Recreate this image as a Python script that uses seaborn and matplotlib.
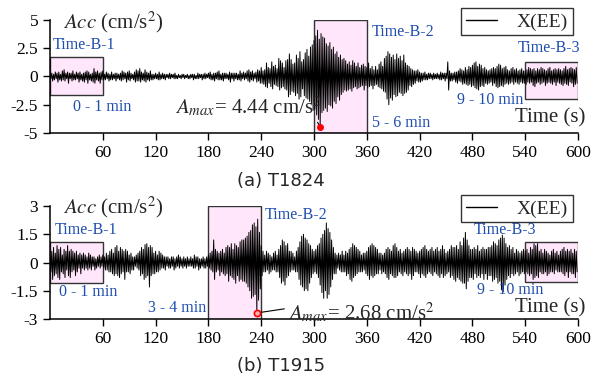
import numpy as np
import pandas as pd
import matplotlib.pyplot as plt
import seaborn as sns
from matplotlib.patches import Rectangle

# peaks, one value per second (0 ... 599 s)
time_s = list(range(0, 600))

acc_t1824 = [
    0.1, -0.2, 0.3, -0.4, 0.2, -0.3, 0.4, -0.2, 0.3, -0.5, 0.4, -0.3, 0.2, -0.4, 0.5, -0.3, 0.6, -0.4, 0.3, -0.2,
    0.4, -0.6, 0.3, -0.2, 0.3, -0.4, 0.5, -0.3, 0.2, -0.3, 0.4, -0.2, 0.3, -0.5, 0.4, -0.3, 0.2, -0.4, 0.3, -0.5,
    0.4, -0.3, 0.5, -0.6, 0.4, -0.3, 0.2, -0.4, 0.3, -0.5, 0.7, -0.6, 0.4, -0.3, 0.5, -0.4, 0.3, -0.6, 0.4, -0.3,
    0.5, -0.3, 0.2, -0.3, 0.4, -0.2, 0.3, -0.4, 0.2, -0.3, 0.4, -0.3, 0.2, -0.2, 0.3, -0.4, 0.3, -0.2, 0.2, -0.3,
    0.3, -0.4, 0.5, -0.3, 0.4, -0.2, 0.3, -0.5, 0.4, -0.3, 0.5, -0.4, 0.3, -0.2, 0.2, -0.3, 0.4, -0.5, 0.6, -0.4,
    0.5, -0.4, 0.7, -0.5, 0.4, -0.3, 0.3, -0.4, 0.6, -0.5, 0.4, -0.3, 0.3, -0.4, 0.5, -0.3, 0.2, -0.3, 0.2, -0.2,
    0.3, -0.2, 0.2, -0.3, 0.4, -0.3, 0.2, -0.2, 0.3, -0.2, 0.2, -0.3, 0.2, -0.1, 0.2, -0.2, 0.3, -0.2, 0.2, -0.1,
    0.2, -0.2, 0.3, -0.2, 0.1, -0.2, 0.2, -0.1, 0.1, -0.2, 0.2, -0.1, 0.2, -0.2, 0.1, -0.1, 0.2, -0.2, 0.1, -0.2,
    0.2, -0.1, 0.2, -0.3, 0.2, -0.2, 0.1, -0.2, 0.3, -0.2, 0.2, -0.1, 0.2, -0.3, 0.2, -0.2, 0.3, -0.2, 0.2, -0.1,
    0.3, -0.2, 0.4, -0.3, 0.2, -0.3, 0.3, -0.4, 0.3, -0.2, 0.4, -0.3, 0.5, -0.3, 0.2, -0.3, 0.3, -0.4, 0.3, -0.2,
    0.3, -0.2, 0.2, -0.3, 0.4, -0.5, 0.3, -0.2, 0.3, -0.4, 0.3, -0.2, 0.3, -0.3, 0.2, -0.3, 0.5, -0.4, 0.3, -0.2,
    0.4, -0.3, 0.3, -0.2, 0.5, -0.4, 0.6, -0.5, 0.4, -0.3, 0.5, -0.4, 0.3, -0.2, 0.4, -0.5, 0.6, -0.4, 0.5, -0.6,
    0.8, -0.6, 0.5, -0.7, 0.6, -0.9, 1.2, -1.0, 0.8, -0.6, 0.7, -0.9, 1.3, -1.1, 0.9, -0.7, 1.0, -0.8, 0.7, -0.9,
    1.6, -1.2, 1.4, -1.0, 1.2, -0.9, 0.8, -1.1, 1.4, -1.2, 1.5, -1.8, 2.0, -1.6, 1.5, -1.3, 1.1, -1.4, 1.2, -1.7,
    1.9, -1.5, 1.6, -2.0, 2.2, -1.8, 1.3, -1.1, 1.5, -1.7, 2.1, -1.9, 2.4, -2.0, 1.8, -2.2, 2.6, -2.4, 2.8, -3.0,
    3.2, -2.9, 3.6, -3.4, 4.1, -3.8, 3.3, -4.44, 3.8, -3.2, 3.5, -3.0, 3.4, -2.8, 2.9, -3.1, 2.7, -2.5, 3.0, -2.6,
    2.4, -2.8, 2.6, -2.2, 2.0, -2.4, 2.2, -1.8, 1.7, -2.1, 1.9, -1.6, 1.5, -1.4, 1.6, -1.2, 1.4, -1.3, 1.1, -1.2,
    1.3, -1.1, 1.0, -1.3, 1.4, -1.0, 1.2, -0.9, 0.9, -1.1, 1.2, -1.0, 0.8, -0.9, 1.0, -0.8, 1.1, -1.2, 0.9, -0.8,
    0.8, -1.0, 1.2, -0.9, 0.7, -0.8, 0.9, -1.1, 0.6, -0.8, 0.9, -0.7, 0.6, -0.9, 1.1, -1.0, 1.3, -1.1, 0.9, -1.3,
    1.6, -1.4, 1.8, -2.0, 2.2, -2.5, 2.0, -1.9, 1.7, -2.1, 1.9, -1.6, 1.5, -1.8, 2.0, -1.7, 1.6, -1.4, 1.8, -1.5,
    1.4, -1.7, 1.9, -1.5, 1.2, -1.4, 1.0, -1.2, 0.9, -0.8, 0.7, -0.9, 0.6, -0.7, 0.5, -0.6, 0.5, -0.4, 0.6, -0.5,
    0.4, -0.5, 0.3, -0.4, 0.3, -0.3, 0.4, -0.3, 0.2, -0.3, 0.3, -0.2, 0.3, -0.2, 0.2, -0.3, 0.3, -0.2, 0.2, -0.2,
    0.3, -0.2, 0.2, -0.3, 0.4, -0.3, 0.3, -0.2, 0.3, -0.4, 0.3, -0.2, 1.3, -1.2, 0.5, -0.4, 0.3, -0.4, 0.3, -0.3,
    0.4, -0.5, 0.4, -0.6, 0.5, -0.4, 0.7, -0.5, 0.6, -0.7, 0.5, -0.6, 0.8, -0.7, 0.6, -0.8, 0.9, -0.7, 0.8, -0.9,
    1.0, -0.8, 1.2, -1.0, 1.3, -1.1, 0.9, -1.2, 1.1, -0.9, 1.0, -0.8, 0.7, -0.9, 0.8, -0.6, 0.6, -0.7, 0.5, -0.6,
    0.6, -0.5, 0.7, -0.8, 0.8, -0.6, 0.7, -0.9, 0.9, -1.0, 1.1, -0.9, 1.0, -0.8, 0.7, -0.9, 0.8, -0.7, 0.9, -0.6,
    0.6, -0.7, 0.5, -0.6, 0.7, -0.5, 0.8, -0.7, 0.6, -0.5, 0.7, -0.6, 0.5, -0.7, 0.6, -0.5, 0.7, -0.6, 0.5, -0.6,
    0.5, -0.7, 0.6, -0.5, 0.8, -0.6, 0.7, -0.5, 0.6, -0.8, 0.7, -0.9, 0.5, -0.6, 0.7, -0.5, 0.6, -0.7, 0.8, -0.6,
    0.7, -0.5, 0.6, -0.8, 0.5, -0.6, 0.7, -0.5, 0.8, -0.6, 0.5, -0.7, 0.6, -0.5, 0.7, -0.8, 0.6, -0.5, 0.7, -0.6,
    0.6, -0.7, 0.5, -0.8, 0.7, -0.6, 0.9, -0.7, 0.6, -0.8, 0.7, -0.5, 0.8, -0.6, 0.7, -0.9, 0.6, -0.7, 0.8, -0.6,
]

acc_t1915 = [
    0.3, -0.5, 0.6, -0.9, 0.8, -0.7, 0.5, -0.6, 0.9, -0.8, 0.7, -0.9, 0.8, -0.5, 0.4, -0.6, 0.7, -0.8, 0.6, -0.4,
    0.9, -0.7, 0.6, -0.8, 0.7, -0.5, 0.6, -0.4, 0.5, -0.7, 0.6, -0.5, 0.4, -0.3, 0.5, -0.6, 0.4, -0.3, 0.5, -0.4,
    0.4, -0.3, 0.3, -0.4, 0.5, -0.3, 0.4, -0.4, 0.3, -0.2, 0.3, -0.4, 0.2, -0.3, 0.3, -0.2, 0.4, -0.3, 0.3, -0.2,
    0.4, -0.3, 0.3, -0.4, 0.5, -0.4, 0.4, -0.5, 0.6, -0.5, 0.7, -0.6, 0.5, -0.7, 0.8, -0.6, 0.9, -0.7, 0.6, -0.8,
    0.8, -0.6, 0.7, -0.5, 0.6, -0.9, 0.7, -0.5, 0.6, -0.5, 0.4, -0.6, 0.5, -0.4, 0.3, -0.4, 0.3, -0.2, 0.4, -0.3,
    0.5, -0.4, 0.6, -0.7, 0.8, -0.6, 0.7, -0.9, 0.95, -0.8, 1.0, -0.7, 0.8, -1.3, 0.9, -0.7, 0.8, -0.6, 0.5, -0.6,
    0.6, -0.5, 0.4, -0.5, 0.6, -0.4, 0.5, -0.3, 0.4, -0.3, 0.3, -0.4, 0.3, -0.2, 0.3, -0.3, 0.2, -0.3, 0.3, -0.2,
    0.3, -0.4, 0.2, -0.3, 0.3, -0.2, 0.4, -0.3, 0.3, -0.2, 0.2, -0.3, 0.3, -0.2, 0.2, -0.3, 0.3, -0.2, 0.2, -0.2,
    0.3, -0.2, 0.2, -0.3, 0.4, -0.3, 0.3, -0.2, 0.3, -0.4, 0.2, -0.3, 0.2, -0.2, 0.3, -0.3, 0.2, -0.3, 0.3, -0.2,
    0.4, -0.3, 0.5, -0.4, 0.6, -0.5, 1.2, -0.9, 0.7, -0.5, 0.6, -0.4, 0.5, -0.7, 0.6, -0.5, 0.7, -0.6, 0.5, -0.7,
    0.8, -0.6, 0.9, -1.0, 0.8, -0.7, 1.0, -0.8, 0.7, -0.9, 1.0, -1.1, 0.9, -0.7, 0.8, -1.0, 1.1, -0.9, 1.2, -1.0,
    1.2, -1.0, 1.3, -1.1, 1.4, -1.3, 1.6, -1.5, 1.7, -1.9, 2.0, -1.8, 2.1, -1.7, 1.9, -2.68, 2.3, -2.0, 1.6, -1.4,
    0.9, -0.7, 0.6, -0.5, 0.4, -0.5, 0.6, -0.4, 0.5, -0.6, 0.4, -0.5, 0.3, -0.4, 0.5, -0.4, 0.6, -0.5, 0.4, -0.5,
    0.7, -0.8, 0.9, -1.1, 1.2, -1.0, 1.1, -1.2, 0.9, -0.8, 1.0, -0.7, 0.6, -0.5, 0.6, -0.4, 0.5, -0.4, 0.3, -0.5,
    0.6, -0.5, 0.8, -0.9, 1.1, -1.2, 1.4, -1.3, 1.5, -1.5, 1.3, -1.4, 1.2, -1.5, 1.0, -1.1, 0.9, -0.8, 0.7, -0.6,
    0.6, -0.5, 0.7, -0.6, 0.9, -0.8, 1.0, -1.2, 1.3, -1.6, 1.5, -1.9, 1.7, -1.5, 2.1, -1.9, 1.8, -1.7, 1.6, -1.3,
    1.2, -0.9, 0.8, -0.6, 0.5, -0.6, 0.4, -0.3, 0.5, -0.4, 0.4, -0.5, 0.6, -0.5, 0.4, -0.5, 0.6, -0.7, 0.5, -0.6,
    0.7, -0.9, 0.8, -1.0, 1.0, -0.8, 0.9, -0.7, 0.8, -0.6, 0.7, -0.5, 0.6, -0.5, 0.4, -0.5, 0.5, -0.4, 0.5, -0.6,
    0.6, -0.7, 0.8, -0.9, 0.9, -0.7, 1.0, -0.8, 0.9, -0.7, 0.8, -0.6, 0.7, -0.6, 0.5, -0.4, 0.5, -0.6, 0.4, -0.5,
    0.5, -0.6, 0.7, -0.8, 0.8, -0.9, 0.7, -0.6, 0.6, -0.7, 0.9, -0.8, 1.0, -0.8, 0.8, -0.7, 0.6, -0.5, 0.7, -0.6,
    0.5, -0.7, 0.6, -0.5, 0.7, -0.6, 0.8, -0.7, 0.7, -0.6, 0.6, -0.9, 0.8, -0.7, 0.7, -0.5, 0.6, -0.5, 0.5, -0.6,
    0.6, -0.8, 0.7, -0.6, 0.8, -0.7, 0.9, -0.8, 0.7, -0.6, 0.6, -0.5, 0.7, -0.6, 0.8, -0.7, 0.6, -0.5, 0.7, -0.6,
    0.8, -0.7, 0.6, -0.8, 0.7, -0.6, 0.9, -0.8, 0.7, -0.7, 0.5, -0.6, 0.6, -0.5, 0.7, -0.8, 0.9, -0.7, 0.8, -0.9,
    0.8, -1.0, 0.9, -0.8, 0.7, -0.9, 1.1, -1.0, 0.9, -1.1, 1.3, -1.1, 1.6, -1.4, 1.2, -1.0, 0.9, -0.8, 0.7, -0.8,
    0.7, -0.9, 0.8, -0.6, 0.7, -0.8, 0.9, -0.7, 0.6, -0.8, 0.7, -0.6, 0.8, -0.9, 0.7, -0.6, 0.7, -0.9, 0.8, -0.7,
    0.8, -0.7, 0.9, -1.0, 1.1, -0.9, 1.0, -0.8, 0.9, -1.1, 1.2, -1.0, 1.3, -1.45, 1.45, -1.55, 1.3, -1.2, 1.0, -0.9,
    0.8, -0.7, 0.9, -0.8, 0.7, -0.6, 0.8, -0.7, 0.5, -0.6, 0.7, -0.5, 0.6, -0.7, 0.5, -0.6, 0.6, -0.5, 0.7, -0.6,
    0.6, -0.5, 0.7, -0.6, 0.5, -0.7, 0.8, -0.6, 0.7, -0.9, 1.0, -0.8, 0.9, -0.7, 1.0, -0.8, 0.6, -0.5, 0.7, -0.6,
    0.5, -0.6, 0.7, -0.5, 0.6, -0.7, 0.5, -0.6, 0.4, -0.5, 0.6, -0.5, 0.7, -0.6, 0.5, -0.4, 0.6, -0.5, 0.4, -0.5,
    0.6, -0.5, 0.7, -0.6, 0.8, -0.7, 0.6, -0.5, 0.7, -0.8, 0.6, -0.5, 0.7, -0.6, 0.5, -0.6, 0.7, -0.8, 0.6, -0.5,
]

x_ticks = [60, 120, 180, 240, 300, 360, 420, 480, 540, 600]
y_ticks_a = [-5, -2.5, 0, 2.5, 5]
y_labels_a = ["-5", "-2.5", "0", "2.5", "5"]
y_ticks_b = [-3, -1.5, 0, 1.5, 3]
y_labels_b = ["-3", "-1.5", "0", "1.5", "3"]

# windows: (start s, end s, y low, y high)
windows_a = [(0, 60, -1.6, 1.75), (300, 360, -5, 5), (540, 600, -2.0, 1.3)]
windows_b = [(0, 60, -1.07, 1.1), (180, 240, -3, 3), (540, 600, -1.05, 1.1)]

df_a = pd.DataFrame({"t": time_s, "acc": acc_t1824})
df_b = pd.DataFrame({"t": time_s, "acc": acc_t1915})

sns.set_style("ticks")
plt.rcParams["font.family"] = ["Liberation Serif", "DejaVu Serif"]
plt.rcParams["mathtext.fontset"] = "stix"

blue = "#1F4EAD"
pink = "#FFE6FA"

fig = plt.figure(figsize=(5.94, 3.76), dpi=100)
ax1 = fig.add_axes([0.0842, 0.6463, 0.8889, 0.3005])
ax2 = fig.add_axes([0.0842, 0.1516, 0.8889, 0.3005])


def style_axis(ax, ylim, yticks, ylabels):
    ax.set_xlim(0, 600)
    ax.set_ylim(*ylim)
    ax.set_xticks(x_ticks)
    ax.set_yticks(yticks)
    ax.set_yticklabels(ylabels)
    ax.tick_params(direction="out", length=5, width=1, labelsize=12.5, colors="black")
    for s in ["top", "right"]:
        ax.spines[s].set_visible(False)
    for s in ["left", "bottom"]:
        ax.spines[s].set_linewidth(1.1)
        ax.spines[s].set_color("black")
    ax.set_xlabel("")
    ax.set_ylabel("")


def draw_windows(ax, windows):
    for x0, x1, y0, y1 in windows:
        ax.add_patch(Rectangle((x0, y0), x1 - x0, y1 - y0, facecolor=pink,
                               edgecolor="#333333", lw=1, zorder=1))


for ax, df, wins in [(ax1, df_a, windows_a), (ax2, df_b, windows_b)]:
    draw_windows(ax, wins)
    sns.lineplot(data=df, x="t", y="acc", ax=ax, color="black", lw=0.7,
                 label="X(EE)", zorder=3)

style_axis(ax1, (-5, 5), y_ticks_a, y_labels_a)
style_axis(ax2, (-3, 3), y_ticks_b, y_labels_b)

for ax, top in [(ax1, 1.106), (ax2, 1.097)]:
    leg = ax.legend(loc="upper right", bbox_to_anchor=(0.99, top), borderaxespad=0,
                    fontsize=14, frameon=True, fancybox=False, handlelength=1.6,
                    handletextpad=1.0, borderpad=0.25)
    leg.get_frame().set_edgecolor("black")
    leg.get_frame().set_linewidth(1)
    for line in leg.get_lines():
        line.set_linewidth(1.0)

# panel a texts
ax1.text(15, 4.8, "$Acc$ (cm/s$^2$)", fontsize=15, va="center")
ax1.text(3.4, 2.8, "Time-B-1", color=blue, fontsize=11.5, va="center")
ax1.text(26, -2.7, "0 - 1 min", color=blue, fontsize=11.5, va="center")
ax1.text(366, 3.9, "Time-B-2", color=blue, fontsize=11.5, va="center")
ax1.text(366, -4.1, "5 - 6 min", color=blue, fontsize=11.5, va="center")
ax1.text(532, 2.5, "Time-B-3", color=blue, fontsize=11.5, va="center")
ax1.text(462, -2.1, "9 - 10 min", color=blue, fontsize=11.5, va="center")
ax1.text(608, -3.7, "Time (s)", fontsize=15, ha="right", va="center")
i_a = int(np.argmin(acc_t1824))
ax1.annotate("$A_{max}$= 4.44 cm/s$^2$", xy=(time_s[i_a], acc_t1824[i_a]),
             xytext=(142, -2.7), fontsize=15, va="center",
             arrowprops=dict(arrowstyle="-", color="black", lw=0.8,
                             relpos=(0.95, 0.1), shrinkA=0, shrinkB=0))
ax1.plot(time_s[i_a], acc_t1824[i_a], "o", ms=4, color="red", zorder=5)

# panel b texts
ax2.text(15, 2.95, "$Acc$ (cm/s$^2$)", fontsize=15, va="center")
ax2.text(5.7, 1.73, "Time-B-1", color=blue, fontsize=11.5, va="center")
ax2.text(10, -1.57, "0 - 1 min", color=blue, fontsize=11.5, va="center")
ax2.text(111, -2.42, "3 - 4 min", color=blue, fontsize=11.5, va="center")
ax2.text(244, 2.53, "Time-B-2", color=blue, fontsize=11.5, va="center")
ax2.text(481, 1.73, "Time-B-3", color=blue, fontsize=11.5, va="center")
ax2.text(485, -1.46, "9 - 10 min", color=blue, fontsize=11.5, va="center")
ax2.text(608, -2.42, "Time (s)", fontsize=15, ha="right", va="center")
i_b = int(np.argmin(acc_t1915))
ax2.annotate("$A_{max}$= 2.68 cm/s$^2$", xy=(time_s[i_b], acc_t1915[i_b]),
             xytext=(270, -2.69), fontsize=15, va="center",
             arrowprops=dict(arrowstyle="-", color="black", lw=0.8,
                             relpos=(0.0, 0.7), shrinkA=0, shrinkB=0))
ax2.plot(time_s[i_b], acc_t1915[i_b], "o", ms=4.5, mec="red", mfc="#ffb0b0",
         mew=1.2, zorder=5)

fig.text(0.473, 1 - 181 / 376, "(a) T1824", fontsize=13, ha="center", va="center",
         family=["DejaVu Sans"])
fig.text(0.473, 1 - 366 / 376, "(b) T1915", fontsize=13, ha="center", va="center",
         family=["DejaVu Sans"])

fig.savefig("out.png", dpi=100)
